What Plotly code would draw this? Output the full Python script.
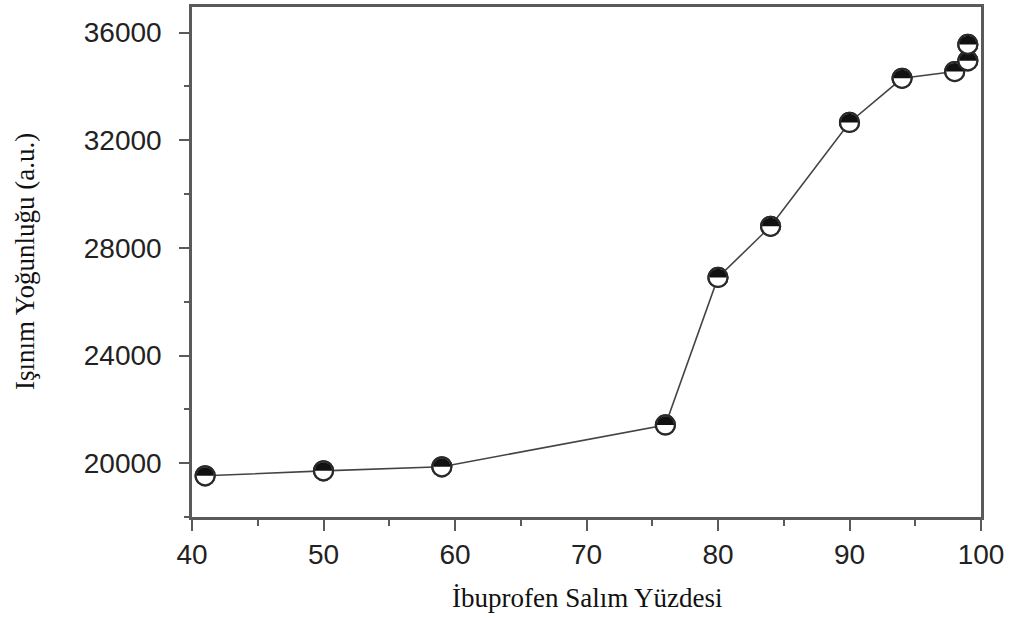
import plotly.graph_objects as go

# Ibuprofen release percentage vs. emission intensity
release_pct = [41, 50, 59, 76, 80, 84, 90, 94, 98, 99, 99]
intensity = [19530, 19715, 19865, 21420, 26900, 28800, 32660, 34300, 34550, 34950, 35560]

y_ticks = [20000, 24000, 28000, 32000, 36000]
y_ticktext = ["20000", "24000", "28000", "32000", "36000"]
x_ticks = [40, 50, 60, 70, 80, 90, 100]
x_ticktext = ["40", "50", "60", "70", "80", "90", "100"]

axis_color = "#5a5a5a"
rim_color = "#2a2a2a"
tick_font = dict(family="Liberation Sans, Arial, sans-serif", size=28, color="#222")
title_font = dict(family="Liberation Serif, Times New Roman, serif", size=27, color="#111")

fig = go.Figure()

# connecting line
fig.add_trace(go.Scatter(
    x=release_pct, y=intensity, mode="lines",
    line=dict(color="#444444", width=1.6),
    hoverinfo="skip", showlegend=False,
))

# white discs with a dark rim
fig.add_trace(go.Scatter(
    x=release_pct, y=intensity, mode="markers",
    marker=dict(symbol="circle", size=19, color="white",
                line=dict(color=rim_color, width=2.2)),
    showlegend=False,
))

# each point redrawn as a pixel-sized disc with its upper half filled black,
# one point after another so later points sit on top of earlier ones
R = 9.5          # disc radius (px)
r = 8.6          # filled half radius (px)
k = 0.5523 * r   # cubic control offset for a quarter arc
half_disc = (f"M {-r},0 C {-r},{k} {-k},{r} 0,{r} "
             f"C {k},{r} {r},{k} {r},0 Z")
for xv, yv in zip(release_pct, intensity):
    fig.add_shape(
        type="circle", layer="above",
        xref="x", yref="y", xsizemode="pixel", ysizemode="pixel",
        xanchor=xv, yanchor=yv, x0=-R, x1=R, y0=-R, y1=R,
        fillcolor="white", line=dict(color=rim_color, width=2.2),
    )
    fig.add_shape(
        type="path", path=half_disc, layer="above",
        xref="x", yref="y", xsizemode="pixel", ysizemode="pixel",
        xanchor=xv, yanchor=yv,
        fillcolor="#111111", line=dict(width=0),
    )

fig.update_layout(
    width=1017, height=618,
    margin=dict(l=192, r=36, t=4, b=101),
    paper_bgcolor="white", plot_bgcolor="white",
    xaxis=dict(
        range=[40, 100], tickvals=x_ticks, ticktext=x_ticktext,
        showline=True, linecolor=axis_color, linewidth=2.5, mirror=True,
        ticks="outside", ticklen=11, tickwidth=2, tickcolor=axis_color,
        minor=dict(dtick=5, ticks="outside", ticklen=6, tickwidth=2, tickcolor=axis_color),
        showgrid=False, zeroline=False, tickfont=tick_font,
    ),
    yaxis=dict(
        range=[18000, 36950], tickvals=y_ticks, ticktext=y_ticktext,
        showline=True, linecolor=axis_color, linewidth=2.5, mirror=True,
        ticks="outside", ticklen=10, tickwidth=2, tickcolor=axis_color,
        minor=dict(dtick=2000, ticks="outside", ticklen=5, tickwidth=2, tickcolor=axis_color),
        showgrid=False, zeroline=False, tickfont=tick_font, ticklabelstandoff=12,
    ),
    annotations=[
        dict(text="İbuprofen Salım Yüzdesi", xref="paper", yref="paper",
             x=0.5, y=0, xanchor="center", yanchor="middle", yshift=-81,
             showarrow=False, font=title_font),
        dict(text="Işınım Yoğunluğu (a.u.)", xref="paper", yref="paper",
             x=0, y=0.5, xanchor="center", yanchor="middle", xshift=-167,
             textangle=-90, showarrow=False, font=title_font),
    ],
)

fig.write_html("out.html")
